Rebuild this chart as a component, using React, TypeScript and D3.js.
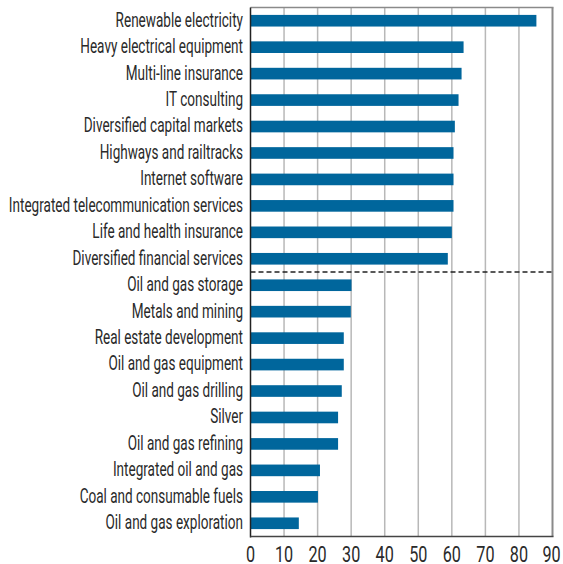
import React from "react";
import * as d3 from "d3";

const categories = [
  "Renewable electricity",
  "Heavy electrical equipment",
  "Multi-line insurance",
  "IT consulting",
  "Diversified capital markets",
  "Highways and railtracks",
  "Internet software",
  "Integrated telecommunication services",
  "Life and health insurance",
  "Diversified financial services",
  "Oil and gas storage",
  "Metals and mining",
  "Real estate development",
  "Oil and gas equipment",
  "Oil and gas drilling",
  "Silver",
  "Oil and gas refining",
  "Integrated oil and gas",
  "Coal and consumable fuels",
  "Oil and gas exploration",
];
const values = [85.2, 63.5, 62.9, 62.0, 60.9, 60.5, 60.5, 60.5, 60.0, 58.8, 30.1, 29.9, 27.8, 27.8, 27.2, 26.1, 26.1, 20.7, 20.1, 14.4];
const ticks = [0, 10, 20, 30, 40, 50, 60, 70, 80, 90];
const dividerAfter = "Diversified financial services";

const W = 563, H = 564;
const left = 250.5, right = 552.5, top = 7.5, bottom = 536.5;
const font = "Roboto, 'Open Sans', sans-serif";

export default function App() {
  const x = d3.scaleLinear().domain([0, 90]).range([left, right]);
  const y = d3.scaleBand<string>().domain(categories).range([top, bottom]).paddingInner(0.56).paddingOuter(0.28);
  const divIdx = categories.indexOf(dividerAfter);
  const dividerY = (y(categories[divIdx])! + y(categories[divIdx + 1])! + y.bandwidth()) / 2;
  return (
    <svg width={W} height={H} style={{ position: "absolute", left: 0, top: 0, background: "#fff" }}>
      {ticks.slice(1).map((t) => (
        <line key={t} x1={x(t)} x2={x(t)} y1={top} y2={bottom} stroke={t === 90 ? "#8a8a8a" : "#b8b8b8"} strokeWidth={t === 90 ? 2 : 1.5} />
      ))}
      <line x1={left} x2={right + 1} y1={top} y2={top} stroke="#8a8a8a" strokeWidth={1.5} />
      {categories.map((c, i) => (
        <rect key={c} x={x(0)} y={y(c)} width={x(values[i]) - x(0)} height={y.bandwidth()} fill="#00669c" />
      ))}
      <line x1={left} x2={right} y1={dividerY} y2={dividerY} stroke="#222" strokeWidth={1.3} strokeDasharray="5,3" />
      <line x1={left} x2={left} y1={top} y2={bottom + 1} stroke="#222" strokeWidth={1.5} />
      <line x1={left} x2={right + 1} y1={bottom} y2={bottom} stroke="#444" strokeWidth={1.5} />
      {categories.map((c) => (
        <text
          key={c}
          transform={`translate(243,${y(c)! + y.bandwidth() / 2}) scale(0.645,1)`}
          dy="0.28em"
          textAnchor="end"
          fontFamily={font}
          fontSize={21}
          fill="#2a2a2a"
        >
          {c}
        </text>
      ))}
      {ticks.map((t) => (
        <text
          key={t}
          transform={`translate(${x(t) + (t === 90 ? -1 : 0)},562) scale(0.72,1)`}
          textAnchor="middle"
          fontFamily={font}
          fontSize={22.5}
          fill="#2a2a2a"
        >
          {t}
        </text>
      ))}
    </svg>
  );
}
